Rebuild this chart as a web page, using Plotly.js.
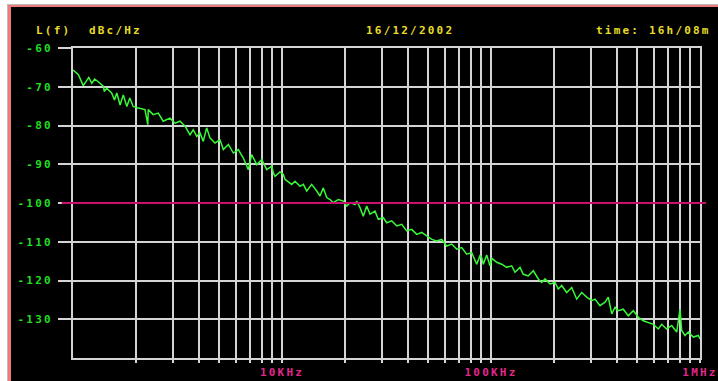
<!DOCTYPE html>
<html>
<head>
<meta charset="utf-8">
<script src="https://cdn.plot.ly/plotly-3.0.1.min.js"></script>
<style>
  html, body { margin: 0; padding: 0; background: #ffffff; width: 718px; height: 381px; overflow: hidden; }
  #grey { position: absolute; left: 7px; top: 4px; width: 711px; height: 377px; background: #bdbdbd; }
  #pink { position: absolute; left: 8px; top: 5px; width: 710px; height: 376px; background: #f07a7a; }
  #plot { position: absolute; left: 11px; top: 7px; width: 707px; height: 374px; background: #000; }
  svg text { letter-spacing: 2.2px; }
</style>
</head>
<body>
<div id="grey"></div>
<div id="pink"></div>
<div id="plot"></div>
<script>
// Offset frequency (Hz) and single-sideband phase noise L(f) (dBc/Hz)
const freqHz = [
  1000, 1060, 1120, 1190, 1230, 1270, 1320, 1400, 1410, 1450,
  1530, 1580, 1620, 1680, 1740, 1810, 1870, 1940, 2050, 2210,
  2280, 2290, 2420, 2560, 2700, 2910, 3080, 3250, 3440, 3630,
  3760, 3910, 4050, 4200, 4360, 4520, 4780, 5050, 5240, 5540,
  5850, 6180, 6530, 6900, 7160, 7570, 8000, 8450, 8930, 9090,
  9260, 9780, 10140, 10330, 11130, 11540, 12200, 12650, 13130, 13870,
  14660, 15200, 15760, 16370, 16970, 17600, 18600, 19650, 20400, 21160,
  22360, 22780, 23620, 24490, 25430, 26370, 27860, 28890, 30530, 31700,
  33490, 35390, 37390, 39520, 41750, 44110, 46610, 49250, 52040, 54990,
  58100, 61380, 64860, 68530, 72410, 76500, 80840, 85410, 88600, 90250,
  91880, 95360, 98900, 101000, 106500, 112500, 118900, 125600, 130300, 137700,
  142700, 150800, 159400, 168400, 174800, 181300, 191600, 202400, 209900, 217900,
  230200, 243300, 257000, 271600, 287100, 303300, 314500, 332300, 351200, 364100,
  378100, 392100, 406600, 429500, 453800, 479600, 506800, 535500, 565800, 597900,
  631800, 655800, 693000, 732200, 773700, 802300, 817400, 847700, 879100, 928900,
  981500, 1000000
];
const levelDbc = [
  -65.7, -66.8, -69.7, -67.6, -69.1, -68.0, -68.7, -69.9, -71.2, -70.4,
  -71.6, -73.4, -71.6, -74.7, -72.1, -75.1, -72.9, -75.1, -75.5, -75.9,
  -79.8, -75.9, -77.2, -76.8, -78.9, -78.1, -79.4, -78.9, -80.2, -82.4,
  -81.1, -82.8, -81.9, -84.1, -80.6, -83.2, -84.5, -83.7, -86.2, -84.9,
  -87.1, -86.2, -88.4, -91.4, -87.5, -90.1, -88.8, -91.4, -90.5, -92.2,
  -93.1, -92.0, -92.6, -93.9, -95.2, -94.4, -95.7, -95.2, -96.9, -95.2,
  -96.9, -98.2, -96.1, -98.6, -99.1, -99.9, -99.1, -99.5, -100.8, -99.9,
  -100.4, -99.5, -101.2, -103.4, -100.8, -102.9, -102.1, -104.2, -103.8, -105.1,
  -104.6, -105.9, -105.5, -107.2, -106.8, -108.1, -107.6, -108.5, -109.4, -109.8,
  -109.4, -111.1, -110.6, -111.9, -111.5, -113.2, -112.8, -115.8, -113.6, -114.1,
  -115.8, -113.4, -116.2, -114.3, -115.3, -115.8, -116.6, -116.2, -117.9, -116.6,
  -118.4, -118.8, -117.5, -119.6, -120.5, -119.6, -120.9, -120.5, -122.2, -121.3,
  -123.1, -121.8, -124.8, -123.1, -124.3, -125.2, -124.8, -126.5, -125.6, -124.3,
  -128.6, -126.9, -127.8, -127.4, -129.1, -127.8, -129.5, -130.4, -130.8, -131.3,
  -132.5, -131.3, -132.5, -131.6, -133.3, -127.4, -132.9, -134.2, -133.3, -134.6,
  -134.2, -135.1
];

// Axis ticks / labels
const yTickVals = [-60, -70, -80, -90, -100, -110, -120, -130];
const yTickText = ['-60', '-70', '-80', '-90', '-100', '-110', '-120', '-130'];
const xTickVals = [2000, 3000, 4000, 5000, 6000, 7000, 8000, 9000, 10000,
  20000, 30000, 40000, 50000, 60000, 70000, 80000, 90000, 100000,
  200000, 300000, 400000, 500000, 600000, 700000, 800000, 900000, 1000000];
const xTickText = ['', '', '', '', '', '', '', '', '10KHz',
  '', '', '', '', '', '', '', '', '100KHz',
  '', '', '', '', '', '', '', '', '1MHz'];
const refLevel = -100;
const headerLeft = 'L(f)  dBc/Hz';
const headerDate = '16/12/2002';
const headerTime = 'time: 16h/08m';

const monoFont = 'DejaVu Sans Mono, Liberation Mono, monospace';
const gridCol = '#d4d4d4';

const trace = {
  x: freqHz,
  y: levelDbc,
  type: 'scatter',
  mode: 'lines',
  line: { color: '#38f838', width: 1.5 },
  hoverinfo: 'skip'
};

const layout = {
  width: 707,
  height: 374,
  margin: { l: 62, r: 18, t: 41, b: 23 },
  paper_bgcolor: '#000000',
  plot_bgcolor: '#000000',
  showlegend: false,
  hovermode: false,
  xaxis: {
    type: 'log',
    range: [3, 6],
    tickmode: 'array',
    tickvals: xTickVals,
    ticktext: xTickText,
    ticks: 'outside',
    ticklen: 3,
    tickwidth: 2,
    tickcolor: gridCol,
    showgrid: true,
    gridcolor: gridCol,
    gridwidth: 2,
    showline: true,
    mirror: true,
    linecolor: gridCol,
    linewidth: 2,
    zeroline: false,
    ticklabelstandoff: 0,
    tickfont: { family: monoFont, size: 11, color: '#e2268a', weight: 'bold' }
  },
  yaxis: {
    range: [-140, -60],
    tickmode: 'array',
    tickvals: yTickVals,
    ticktext: yTickText,
    ticks: 'outside',
    ticklen: 13,
    tickwidth: 2,
    tickcolor: gridCol,
    showgrid: true,
    gridcolor: gridCol,
    gridwidth: 2,
    showline: true,
    mirror: true,
    linecolor: gridCol,
    linewidth: 2,
    zeroline: false,
    ticklabelstandoff: 3,
    tickfont: { family: monoFont, size: 11, color: '#22dd22', weight: 'bold' }
  },
  shapes: [{
    type: 'line',
    xref: 'paper', yref: 'y',
    x0: -0.018, x1: 1.0096,
    y0: refLevel, y1: refLevel,
    line: { color: '#c8106e', width: 2 },
    layer: 'above'
  }],
  annotations: [
    { text: headerLeft, xref: 'paper', yref: 'paper', x: -0.0622, y: 1.055,
      xanchor: 'left', yanchor: 'middle', showarrow: false,
      font: { family: monoFont, size: 11, color: '#e6dc28', weight: 'bold' } },
    { text: headerDate, xref: 'paper', yref: 'paper', x: 0.5367, y: 1.055,
      xanchor: 'center', yanchor: 'middle', showarrow: false,
      font: { family: monoFont, size: 11, color: '#e6dc28', weight: 'bold' } },
    { text: headerTime, xref: 'paper', yref: 'paper', x: 1.0207, y: 1.055,
      xanchor: 'right', yanchor: 'middle', showarrow: false,
      font: { family: monoFont, size: 11, color: '#e6dc28', weight: 'bold' } }
  ]
};

Plotly.newPlot('plot', [trace], layout, { staticPlot: true, displayModeBar: false });
</script>
</body>
</html>
